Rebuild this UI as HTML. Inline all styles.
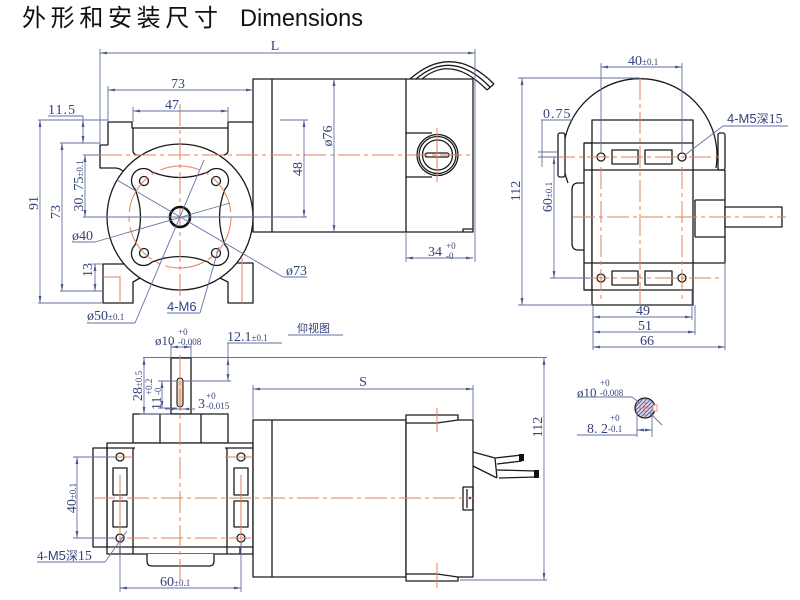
<!DOCTYPE html>
<html><head><meta charset="utf-8"><style>
html,body{margin:0;padding:0;background:#fff;}
svg{display:block}
</style></head><body>
<svg width="800" height="600" viewBox="0 0 800 600" xmlns="http://www.w3.org/2000/svg">
<defs>
<marker id="ar" markerUnits="userSpaceOnUse" markerWidth="8" markerHeight="4" refX="7" refY="2" orient="auto-start-reverse" viewBox="0 0 8 4"><path d="M0,0.6 L7.5,2 L0,3.4 z" fill="#4b5a8c"/></marker>
<clipPath id="cc"><circle cx="645" cy="408" r="10"/></clipPath>
</defs>
<style>
.o{stroke:#1b1b1b;stroke-width:1.3;fill:none;stroke-linejoin:round}
.w{fill:#fff}
.d{stroke:#6271a3;stroke-width:0.9;fill:none}
.m{marker-start:url(#ar);marker-end:url(#ar)}
.c{stroke:#e3805a;stroke-width:1;fill:none}
.cd{stroke-dasharray:22 4 4 4}
text{font-family:"Liberation Serif","Noto Serif CJK SC",serif;fill:#34427a;font-size:14px}
.s{font-size:9px}
.b{font-family:"Liberation Sans","Noto Sans CJK SC",sans-serif;font-size:13px}
.k{font-family:"Noto Sans CJK SC",sans-serif;font-size:12px}
</style>

<!-- Title -->
<text x="22" y="26" textLength="196" lengthAdjust="spacing" style="font-family:'Noto Sans CJK SC',sans-serif;font-size:24px;fill:#111">外形和安装尺寸</text>
<text x="240" y="26" textLength="123" lengthAdjust="spacingAndGlyphs" style="font-family:'Liberation Sans',sans-serif;font-size:24px;fill:#111">Dimensions</text>

<!-- ========== TOP-LEFT VIEW ========== -->
<!-- motor -->
<rect class="o w" x="253" y="79" width="220" height="153"/>
<line class="o" x1="272" y1="79" x2="272" y2="232"/>
<line class="o" x1="406" y1="79" x2="406" y2="232"/>
<path class="o" d="M463,232 L463,229 L473,229" stroke-width="1"/>
<!-- wires -->
<path class="o" d="M410,79 Q452,42 494,84"/>
<path class="o" d="M416,79 Q452,48 490,87"/>
<path class="o" d="M422,79 Q452,54 487,90"/>
<path class="o" d="M494,84 L487,90"/>
<!-- connector -->
<path class="o" d="M406,133 L432,133 M406,177 L432,177"/>
<circle class="o w" cx="437.5" cy="155" r="20.5"/>
<circle class="o" cx="437.5" cy="155" r="18.5"/>
<circle class="o" cx="437.5" cy="155" r="15"/>
<rect class="o" x="425" y="153" width="24" height="4" rx="2"/>

<!-- gearbox body -->
<path class="o" d="M108,145 L108,122 L132,122 L132,128 L228,128 L228,122 L253,122"/>
<path class="o" d="M133,128 L133,150 Q133,155 138,155 M228,128 L228,150 Q228,155 223,155"/>
<path class="o" d="M108,145 L100,145 L100,168 L115,168 Q120,168 124,172"/>
<path class="o" d="M124,264 L103,264 L103,303 L133,303 L133,282 L140,278"/>
<path class="o" d="M220,278 L228,282 L228,303 L253,303 L253,263 L237,263"/>
<circle class="o w" cx="180" cy="217" r="73"/>
<path class="o" d="M152,172 Q180,183 208,172 A12,12 0 0 1 225,189 Q214,217 225,245 A12,12 0 0 1 208,262 Q180,251 152,262 A12,12 0 0 1 135,245 Q146,217 135,189 A12,12 0 0 1 152,172 Z"/>
<circle class="o" cx="144" cy="181" r="4.5"/>
<circle class="o" cx="216" cy="181" r="4.5"/>
<circle class="o" cx="144" cy="253" r="4.5"/>
<circle class="o" cx="216" cy="253" r="4.5"/>

<!-- center lines -->
<line class="c cd" x1="100" y1="155" x2="473" y2="155"/>
<line class="c" x1="437" y1="128" x2="437" y2="182"/>
<line class="c cd" x1="180" y1="104" x2="180" y2="310"/>
<circle class="c" cx="180" cy="217" r="51" stroke-dasharray="40 5 5 5"/>
<path class="c" d="M103,277 L120,277 L120,303"/>
<line class="c" x1="242" y1="258" x2="242" y2="303"/>
<circle cx="180" cy="217" r="10" fill="none" stroke="#111" stroke-width="2.6"/>

<!-- dims left view -->
<line class="d m" x1="100" y1="53" x2="475" y2="53"/>
<line class="d" x1="100" y1="49" x2="100" y2="145"/>
<line class="d" x1="475" y1="49" x2="475" y2="262"/>
<text x="275" y="50" text-anchor="middle">L</text>

<line class="d m" x1="108" y1="90" x2="253" y2="90"/>
<line class="d" x1="108" y1="86" x2="108" y2="122"/>
<text x="178" y="88" text-anchor="middle">73</text>
<line class="d m" x1="133" y1="111" x2="228" y2="111"/>
<line class="d" x1="133" y1="107" x2="133" y2="122"/>
<line class="d" x1="228" y1="107" x2="228" y2="122"/>
<text x="172" y="109" text-anchor="middle">47</text>

<text x="48" y="114" letter-spacing="1">11.5</text>
<line class="d" x1="48" y1="116" x2="83" y2="116"/>
<line class="d" x1="83" y1="116" x2="83" y2="120"/>
<line class="d m" x1="83" y1="120" x2="83" y2="143"/>
<line class="d" x1="38" y1="120" x2="108" y2="120"/>
<line class="d" x1="60" y1="143" x2="100" y2="143"/>

<line class="d m" x1="40" y1="120" x2="40" y2="303"/>
<line class="d" x1="38" y1="303" x2="103" y2="303"/>
<text transform="rotate(-90 38 203)" x="38" y="203" text-anchor="middle">91</text>

<line class="d m" x1="62" y1="143" x2="62" y2="291"/>
<line class="d" x1="60" y1="291" x2="103" y2="291"/>
<text transform="rotate(-90 60 212)" x="60" y="212" text-anchor="middle">73</text>

<line class="d m" x1="85" y1="155" x2="85" y2="217"/>
<line class="d" x1="83" y1="155" x2="100" y2="155"/>
<line class="d" x1="83" y1="217" x2="307" y2="217"/>
<text transform="rotate(-90 83 186)" x="83" y="186" text-anchor="middle">30. 75<tspan class="s">±0.1</tspan></text>

<line class="d m" x1="95" y1="264" x2="95" y2="291"/>
<line class="d" x1="92" y1="264" x2="103" y2="264"/>
<text transform="rotate(-90 92 270)" x="92" y="270" text-anchor="middle">13</text>

<text x="72" y="240">ø40</text>
<line class="d" x1="72" y1="242" x2="95" y2="242"/>
<line class="d" x1="95" y1="242" x2="230" y2="203"/>

<text x="87" y="320">ø50<tspan class="s">±0.1</tspan></text>
<line class="d" x1="87" y1="323" x2="135" y2="323"/>
<line class="d" x1="135" y1="323" x2="204" y2="160"/>

<line class="d" x1="117" y1="180" x2="283" y2="277"/>
<line class="d" x1="283" y1="277" x2="307" y2="277"/>
<text x="286" y="275">ø73</text>

<text class="b" x="167" y="311">4-M6</text>
<line class="d" x1="167" y1="313" x2="200" y2="313"/>
<line class="d" x1="200" y1="313" x2="219" y2="247"/>

<!-- motor dims -->
<line class="d m" x1="304" y1="120" x2="304" y2="217"/>
<line class="d" x1="280" y1="120" x2="308" y2="120"/>
<text transform="rotate(-90 302 169)" x="302" y="169" text-anchor="middle">48</text>
<line class="d m" x1="334" y1="79" x2="334" y2="232"/>
<text transform="rotate(-90 332 136)" x="332" y="136" text-anchor="middle">ø76</text>
<line class="d m" x1="406" y1="258" x2="473" y2="258"/>
<line class="d" x1="406" y1="232" x2="406" y2="262"/>
<text x="428" y="256">34</text>
<text class="s" x="446" y="249">+0</text>
<text class="s" x="446" y="259">-0</text>

<!-- ========== RIGHT VIEW ========== -->
<path class="o w" d="M568,183 A77,77 0 1 1 716,168"/>
<rect class="o w" x="558" y="133" width="7" height="44" rx="2"/>
<rect class="o w" x="718" y="133" width="7" height="37" rx="2"/>
<path class="o w" d="M585,183 L578,183 Q572,183 572,190 L572,243 Q572,250 578,250 L585,250"/>
<rect class="o w" x="584" y="143" width="8" height="147"/>
<rect class="o w" x="592" y="120" width="101" height="185"/>
<path class="o" d="M584,143 L693,143 M584,170 L725,170 M584,263 L725,263 M584,290 L693,290"/>
<path class="o" d="M725,170 L725,263 M695,200 L695,237 M695,200 L725,200 M695,237 L725,237"/>
<rect class="o w" x="725" y="207" width="57" height="20"/>
<circle class="o" cx="601" cy="157" r="4"/>
<circle class="o" cx="682" cy="157" r="4"/>
<circle class="o" cx="601" cy="278" r="4"/>
<circle class="o" cx="682" cy="278" r="4"/>
<rect class="o" x="612" y="150" width="26" height="14"/>
<rect class="o" x="645" y="150" width="27" height="14"/>
<rect class="o" x="612" y="271" width="26" height="14"/>
<rect class="o" x="645" y="271" width="27" height="14"/>
<line class="c cd" x1="640" y1="78" x2="640" y2="305"/>
<line class="c cd" x1="553" y1="157" x2="723" y2="157"/>
<line class="c cd" x1="553" y1="278" x2="723" y2="278"/>
<line class="c cd" x1="573" y1="217" x2="786" y2="217"/>
<line class="c cd" x1="601" y1="167" x2="601" y2="300"/>
<line class="c cd" x1="682" y1="167" x2="682" y2="300"/>

<line class="d m" x1="601" y1="67" x2="682" y2="67"/>
<line class="d" x1="601" y1="63" x2="601" y2="153"/>
<line class="d" x1="682" y1="63" x2="682" y2="153"/>
<text x="628" y="65">40<tspan class="s">±0.1</tspan></text>

<line class="d m" x1="522" y1="78" x2="522" y2="305"/>
<line class="d" x1="518" y1="78" x2="640" y2="78"/>
<line class="d" x1="518" y1="305" x2="592" y2="305"/>
<text transform="rotate(-90 520 191)" x="520" y="191" text-anchor="middle">112</text>

<text x="543" y="118" letter-spacing="1">0.75</text>
<line class="d" x1="541" y1="120" x2="573" y2="120"/>
<line class="d" x1="542" y1="120" x2="542" y2="167"/>
<line class="d" x1="538" y1="152" x2="558" y2="152"/>
<line class="d" x1="538" y1="157" x2="558" y2="157"/>

<line class="d m" x1="554" y1="157" x2="554" y2="278"/>
<line class="d" x1="550" y1="278" x2="590" y2="278"/>
<text transform="rotate(-90 552 197)" x="552" y="197" text-anchor="middle">60<tspan class="s">±0.1</tspan></text>

<text x="727" y="123"><tspan class="b">4-M5</tspan><tspan class="k">深</tspan>15</text>
<line class="d" x1="723" y1="126" x2="788" y2="126"/>
<line class="d" x1="723" y1="126" x2="685" y2="155"/>

<line class="d m" x1="593" y1="317" x2="692" y2="317"/>
<line class="d m" x1="593" y1="332" x2="695" y2="332"/>
<line class="d m" x1="593" y1="347" x2="725" y2="347"/>
<line class="d" x1="593" y1="305" x2="593" y2="350"/>
<line class="d" x1="692" y1="290" x2="692" y2="320"/>
<line class="d" x1="695" y1="305" x2="695" y2="335"/>
<line class="d" x1="725" y1="263" x2="725" y2="350"/>
<text x="643" y="315" text-anchor="middle">49</text>
<text x="645" y="330" text-anchor="middle">51</text>
<text x="647" y="345" text-anchor="middle">66</text>

<!-- ========== BOTTOM VIEW ========== -->
<text class="k" x="297" y="332" style="font-size:11px">仰视图</text>
<line class="d" x1="288" y1="335" x2="343" y2="335"/>

<line class="d" x1="143" y1="357.5" x2="547" y2="357.5"/>
<!-- shaft -->
<rect class="o w" x="171" y="358" width="20" height="56"/>
<rect x="177" y="378" width="6" height="29" rx="3" fill="#f3d2b8" stroke="#1b1b1b" stroke-width="1.1"/>
<!-- upper block -->
<rect class="o w" x="133" y="414" width="95" height="29"/>
<line class="o" x1="160" y1="414" x2="160" y2="443"/>
<line class="o" x1="201" y1="414" x2="201" y2="443"/>
<!-- body -->
<rect class="o w" x="107" y="443" width="146" height="111"/>
<rect class="o w" x="93" y="448" width="14" height="99"/>
<path class="o" d="M107,448 L135,448 M133,448 L133,547 M107,547 L253,547 M225,448 L253,448 M227,448 L227,547"/>
<path class="o" d="M120,547 L120,554 M133,547 L133,554 M227,547 L227,554 M240,547 L240,554"/>
<path class="o w" d="M147,554 L147,561 Q147,566 152,566 L209,566 Q214,566 214,561 L214,554"/>
<circle class="o" cx="120" cy="457" r="4"/>
<circle class="o" cx="120" cy="538" r="4"/>
<circle class="o" cx="241" cy="457" r="4"/>
<circle class="o" cx="241" cy="538" r="4"/>
<rect class="o" x="113" y="468" width="14" height="27"/>
<rect class="o" x="113" y="501" width="14" height="26"/>
<rect class="o" x="234" y="468" width="14" height="27"/>
<rect class="o" x="234" y="501" width="14" height="26"/>

<!-- motor bottom view -->
<rect class="o w" x="253" y="420" width="153" height="157"/>
<line class="o" x1="272" y1="420" x2="272" y2="577"/>
<path class="o w" d="M406,415 L458,415 L458,420 L473,420 L473,577 L458,577 L458,581 L406,581 Z"/>
<path class="o" d="M458,420 L437,423 L406,423 M458,577 L437,574 L406,574" stroke-width="1"/>
<rect class="o" x="463" y="487" width="10" height="23" stroke-width="1.5"/>
<line class="o" x1="467" y1="489" x2="467" y2="508" stroke-width="0.8"/>
<circle cx="470" cy="498" r="1.3" fill="#111"/>
<!-- wires -->
<path class="o" d="M473,452 L495,458 L522,455 M497,464 L522,461 M473,466 L497,478 M495,458 L497,478 M497,470 L536,471 M499,478 L536,477" stroke-width="1.1"/>
<rect x="519" y="454" width="5" height="7" fill="#111"/>
<rect x="534" y="470" width="5" height="8" fill="#111"/>

<!-- center lines bottom -->
<line class="c cd" x1="180" y1="355" x2="180" y2="580"/>
<line class="c cd" x1="93" y1="498" x2="473" y2="498"/>
<line class="c cd" x1="93" y1="538" x2="253" y2="538"/>
<line class="c" x1="93" y1="457" x2="133" y2="457"/>
<line class="c" x1="225" y1="457" x2="253" y2="457"/>
<line class="c" x1="120" y1="475" x2="120" y2="550"/>
<line class="c" x1="241" y1="475" x2="241" y2="550"/>
<line class="c" x1="437" y1="408" x2="437" y2="432"/>
<line class="c" x1="437" y1="563" x2="437" y2="588"/>

<!-- dims bottom -->
<line class="d" x1="171" y1="343" x2="171" y2="358"/>
<line class="d" x1="191" y1="343" x2="191" y2="358"/>
<line class="d m" x1="171" y1="347" x2="191" y2="347"/>
<text x="155" y="345" style="font-size:13px">ø10</text>
<text class="s" x="178" y="335">+0</text>
<text class="s" x="178" y="345">-0.008</text>

<text x="227" y="341">12.1<tspan class="s">±0.1</tspan></text>
<line class="d" x1="227" y1="343" x2="282" y2="343"/>
<line class="d" x1="228" y1="343" x2="228" y2="358"/>
<line class="d m" x1="228" y1="358" x2="228" y2="381"/>
<line class="d" x1="183" y1="381" x2="231" y2="381"/>

<line class="d m" x1="144" y1="358" x2="144" y2="414"/>
<line class="d" x1="140" y1="414" x2="171" y2="414"/>
<text transform="rotate(-90 142 386)" x="142" y="386" text-anchor="middle">28<tspan class="s">±0.5</tspan></text>

<line class="d m" x1="162" y1="381" x2="162" y2="408"/>
<line class="d" x1="158" y1="381" x2="177" y2="381"/>
<line class="d" x1="158" y1="408" x2="177" y2="408"/>
<g transform="translate(161,410) rotate(-90)">
<text x="0" y="0">11</text>
<text class="s" x="15" y="-9">+0.2</text>
<text class="s" x="15" y="0">-0</text>
</g>

<line class="d" x1="165" y1="409" x2="195" y2="409"/>
<path d="M177,409 L171,407.6 L171,410.4 z M183,409 L189,407.6 L189,410.4 z" fill="#4b5a8c"/>
<text x="198" y="408">3</text>
<text class="s" x="206" y="399">+0</text>
<text class="s" x="206" y="409">-0.015</text>

<line class="d m" x1="77" y1="457" x2="77" y2="538"/>
<line class="d" x1="73" y1="457" x2="116" y2="457"/>
<line class="d" x1="73" y1="538" x2="116" y2="538"/>
<text transform="rotate(-90 76 498)" x="76" y="498" text-anchor="middle">40<tspan class="s">±0.1</tspan></text>

<text x="37" y="560"><tspan style="font-size:13px">4-</tspan><tspan class="b">M5</tspan><tspan class="k">深</tspan>15</text>
<line class="d" x1="37" y1="562" x2="105" y2="562"/>
<line class="d" x1="105" y1="562" x2="127" y2="531"/>

<line class="d m" x1="120" y1="588" x2="241" y2="588"/>
<line class="d" x1="120" y1="542" x2="120" y2="592"/>
<line class="d" x1="241" y1="542" x2="241" y2="592"/>
<text x="160" y="586">60<tspan class="s">±0.1</tspan></text>

<line class="d m" x1="253" y1="389" x2="473" y2="389"/>
<line class="d" x1="253" y1="385" x2="253" y2="420"/>
<line class="d" x1="473" y1="385" x2="473" y2="420"/>
<text x="363" y="386" text-anchor="middle">S</text>

<line class="d m" x1="544" y1="358" x2="544" y2="580"/>
<line class="d" x1="460" y1="580" x2="547" y2="580"/>
<text transform="rotate(-90 542 427)" x="542" y="427" text-anchor="middle">112</text>

<!-- ========== SHAFT SECTION DETAIL ========== -->
<g clip-path="url(#cc)">
<rect x="634" y="397" width="24" height="24" fill="#d8daf0"/>
<path d="M622,420 L646,396 M626,420 L650,396 M630,420 L654,396 M634,420 L658,396 M638,420 L662,396 M642,420 L666,396 M646,420 L670,396 M618,420 L642,396" stroke="#5a5fa8" stroke-width="1"/>
<line class="c" x1="633" y1="408" x2="657" y2="408"/>
<line class="c" x1="645" y1="396" x2="645" y2="420"/>
</g>
<circle cx="645" cy="408" r="10" fill="none" stroke="#1b1b1b" stroke-width="1.2"/>
<rect x="653" y="405" width="4" height="6" fill="#fff" stroke="#e3805a" stroke-width="0.8"/>
<text x="577" y="397" style="font-size:13px">ø10</text>
<text class="s" x="600" y="386">+0</text>
<text class="s" x="600" y="396">-0.008</text>
<line class="d" x1="577" y1="397" x2="632" y2="397"/>
<line class="d" x1="632" y1="397" x2="640" y2="403"/>
<text x="587" y="433" style="font-size:14px">8. 2</text>
<text class="s" x="610" y="421">+0</text>
<text class="s" x="608" y="432">-0.1</text>
<line class="d" x1="577" y1="435" x2="637" y2="435"/>
<line class="d" x1="637" y1="412" x2="637" y2="437"/>
<line class="d" x1="652" y1="412" x2="652" y2="437"/>
<line class="d m" x1="637" y1="430" x2="652" y2="430"/>
<line class="d" x1="650" y1="413" x2="662" y2="425"/>
</svg>
</body></html>
